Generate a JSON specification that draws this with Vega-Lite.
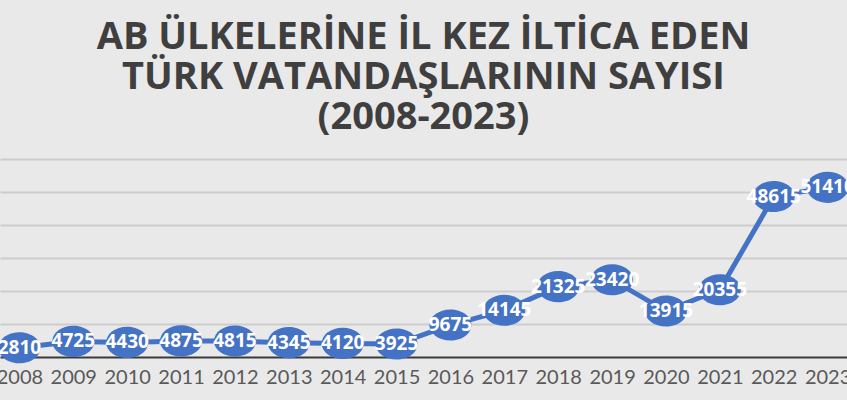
{
  "$schema": "https://vega.github.io/schema/vega-lite/v6.json",
  "autosize": "none",
  "width": 847,
  "height": 198,
  "padding": {"top": 159, "bottom": 43, "left": 0, "right": 0},
  "background": "#e9e9e9",
  "title": {
    "text": ["AB ÜLKELERİNE İL KEZ İLTİCA EDEN", "TÜRK VATANDAŞLARININ SAYISI", "(2008-2023)"],
    "anchor": "middle",
    "font": "Open Sans",
    "fontSize": 38,
    "fontWeight": "bold",
    "color": "#3f3f3f",
    "lineHeight": 40,
    "offset": 22
  },
  "data": {
    "values": [
      {"year": "2008", "value": 2810},
      {"year": "2009", "value": 4725},
      {"year": "2010", "value": 4430},
      {"year": "2011", "value": 4875},
      {"year": "2012", "value": 4815},
      {"year": "2013", "value": 4345},
      {"year": "2014", "value": 4120},
      {"year": "2015", "value": 3925},
      {"year": "2016", "value": 9675},
      {"year": "2017", "value": 14145},
      {"year": "2018", "value": 21325},
      {"year": "2019", "value": 23420},
      {"year": "2020", "value": 13915},
      {"year": "2021", "value": 20355},
      {"year": "2022", "value": 48615},
      {"year": "2023", "value": 51410}
    ]
  },
  "encoding": {
    "x": {
      "field": "year",
      "type": "ordinal",
      "scale": {"type": "point", "padding": 0.36},
      "axis": {
        "title": null,
        "labelAngle": 0,
        "labelFont": "Lato",
        "labelFontSize": 20,
        "labelColor": "#595959",
        "labelPadding": 10,
        "ticks": false,
        "domainColor": "#3a3a3a",
        "domainWidth": 2,
        "grid": false
      }
    },
    "y": {
      "field": "value",
      "type": "quantitative",
      "scale": {"domain": [0, 60000], "nice": false},
      "axis": {
        "title": null,
        "labels": false,
        "ticks": false,
        "domain": false,
        "values": [10000, 20000, 30000, 40000, 50000, 60000],
        "grid": true,
        "gridColor": "#cdcdcd",
        "gridWidth": 2
      }
    }
  },
  "layer": [
    {"mark": {"type": "line", "color": "#4472C4", "strokeWidth": 5}},
    {
      "mark": {
        "type": "point",
        "shape": "M-1,0A1,0.74,0,1,0,1,0A1,0.74,0,1,0,-1,0Z",
        "filled": true,
        "opacity": 1,
        "color": "#4472C4",
        "size": 1764
      }
    },
    {
      "mark": {
        "type": "text",
        "font": "Open Sans",
        "fontSize": 19,
        "fontWeight": "bold",
        "color": "white",
        "baseline": "middle",
        "align": "center"
      },
      "encoding": {"text": {"field": "value", "type": "nominal"}}
    }
  ],
  "config": {"view": {"stroke": null}}
}
